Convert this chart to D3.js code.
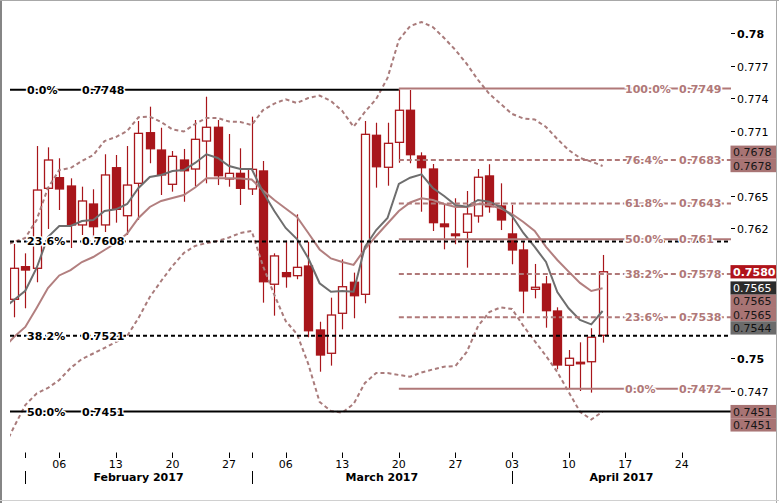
<!DOCTYPE html>
<html><head><meta charset="utf-8">
<script src="https://cdn.jsdelivr.net/npm/d3@7"></script>
<style>body{margin:0;background:#fff}svg{display:block}</style>
</head><body>
<script>
// ---------- DATA ----------
const firstDate = "2017-01-30";   // first trading day in the series (off the left edge)
const lastDate  = "2017-04-13";
// OHLC (null = before first visible candle)
const open  = [null,0.75546,0.75847,0.75832,0.7657,0.76668,0.76591,0.76232,0.76425,0.76232,0.7676,0.76317,0.76616,0.77083,0.76923,0.76607,0.76831,0.76748,0.77006,0.77133,0.76656,0.76708,0.76564,0.7673,0.75685,0.75792,0.75764,0.75853,0.75263,0.75048,0.75417,0.75703,0.75592,0.77059,0.76764,0.76994,0.7729,0.76868,0.76748,0.76241,0.76149,0.76164,0.76315,0.76684,0.76407,0.76149,0.76001,0.75638,0.75687,0.75438,0.74937,0.74965,0.7497,0.75214];
const high  = [null,0.76056,0.7597,0.7696,0.76948,0.76847,0.76662,0.76585,0.76561,0.76884,0.76877,0.7696,0.77191,0.77323,0.77129,0.76914,0.76933,0.772,0.77415,0.772,0.77071,0.76939,0.77231,0.76822,0.7597,0.76087,0.7633,0.76077,0.75339,0.75561,0.75915,0.75792,0.77191,0.77175,0.77175,0.77483,0.77477,0.76902,0.76794,0.76416,0.76478,0.76545,0.76748,0.76792,0.76616,0.76416,0.76077,0.75872,0.75761,0.75472,0.75078,0.75149,0.75279,0.75955];
const low   = [null,0.7538,0.75463,0.75703,0.76195,0.7637,0.76019,0.76139,0.76115,0.76167,0.76253,0.76139,0.76278,0.76801,0.76508,0.76539,0.76446,0.76591,0.76616,0.766,0.76585,0.76416,0.76508,0.75515,0.75395,0.75653,0.75731,0.75196,0.74878,0.74934,0.75269,0.75371,0.75509,0.76576,0.76594,0.76806,0.76801,0.76354,0.76176,0.76007,0.76054,0.75838,0.76253,0.76345,0.76185,0.75869,0.75417,0.75555,0.75284,0.749,0.74716,0.747,0.74685,0.75146];
const close = [null,0.75832,0.75816,0.76554,0.76831,0.76564,0.76232,0.76453,0.76216,0.76693,0.76376,0.766,0.77077,0.76935,0.76693,0.76865,0.76732,0.77022,0.77133,0.76686,0.76708,0.7657,0.76745,0.75708,0.75946,0.75755,0.75841,0.75256,0.75032,0.75401,0.75662,0.75579,0.77068,0.76769,0.76985,0.7729,0.7688,0.7676,0.76253,0.76216,0.76133,0.76333,0.76672,0.764,0.76278,0.76001,0.75623,0.75657,0.75441,0.7494,0.75002,0.74952,0.75196,0.758];
// indicators, one value per trading day from firstDate
const fastAvg = [0.75457,0.7554,0.75625,0.75835,0.76121,0.76222,0.76222,0.76268,0.76278,0.76361,0.76376,0.76425,0.76573,0.76674,0.76693,0.7673,0.76739,0.76804,0.76884,0.7685,0.76776,0.76748,0.76748,0.76536,0.76361,0.76204,0.76102,0.75924,0.75694,0.75616,0.75623,0.75616,0.76029,0.76185,0.76296,0.7661,0.76668,0.76699,0.76573,0.76499,0.76416,0.764,0.76462,0.76446,0.76398,0.76315,0.76158,0.76029,0.7589,0.75613,0.75463,0.75355,0.75315,0.75438];
const slowAvg = [0.75088,0.75198,0.75291,0.75466,0.7565,0.75766,0.75816,0.7589,0.75936,0.76001,0.76065,0.76153,0.76296,0.76398,0.76453,0.76481,0.76508,0.76577,0.76662,0.76662,0.76662,0.7666,0.76651,0.7655,0.76462,0.76384,0.76305,0.76158,0.76006,0.75923,0.7589,0.75863,0.7601,0.7613,0.76245,0.76361,0.76439,0.76478,0.76462,0.76425,0.76398,0.76398,0.76425,0.76416,0.76384,0.76333,0.76259,0.76176,0.76029,0.75909,0.75801,0.75697,0.75623,0.75648];
const bandUpper = [0.76038,0.76075,0.76112,0.76278,0.76573,0.76739,0.76757,0.76822,0.76877,0.77006,0.77043,0.77099,0.77225,0.77231,0.77182,0.77113,0.77094,0.77163,0.77219,0.77219,0.77186,0.77182,0.77154,0.77292,0.77352,0.77391,0.77357,0.77403,0.77426,0.77375,0.77283,0.77138,0.77274,0.77394,0.77588,0.77938,0.78067,0.78104,0.78058,0.77957,0.77846,0.77717,0.77569,0.7744,0.77348,0.77256,0.77214,0.77205,0.77136,0.77025,0.76923,0.7685,0.76817,0.76776];
const bandLower = [0.74156,0.74368,0.74571,0.74677,0.74728,0.74802,0.74912,0.74995,0.75046,0.75097,0.75152,0.75208,0.75374,0.75567,0.75715,0.75853,0.75973,0.76038,0.76065,0.76084,0.76116,0.76158,0.76176,0.75853,0.75586,0.75346,0.75226,0.74949,0.74599,0.74516,0.745,0.7458,0.74774,0.74866,0.74866,0.74848,0.74832,0.74871,0.74899,0.74924,0.74931,0.7506,0.753,0.75429,0.75472,0.75457,0.753,0.75161,0.75023,0.74875,0.74691,0.74509,0.74437,0.74509];
// price axis
const priceTicks = [0.744,0.747,0.75,0.753,0.756,0.759,0.762,0.765,0.768,0.771,0.774,0.777,0.78];
// fibonacci retracements
const leftFibPct = ["0.0%","23.6%","38.2%","50.0%"];
const leftFibVal = [0.7748,0.7608,0.7521,0.7451];
const leftFibSolid = [true,false,false,true];
const rightFibPct = ["100.0%","76.4%","61.8%","50.0%","38.2%","23.6%","0.0%"];
const rightFibVal = [0.7749,0.7683,0.7643,0.761,0.7578,0.7538,0.7472];
const rightFibSolid = [true,false,false,true,false,false,true];
const fibAnchorDate = "2017-03-20";
// time axis
const dayTicks = ["2017-02-06","2017-02-13","2017-02-20","2017-02-27","2017-03-06","2017-03-13","2017-03-20","2017-03-27","2017-04-03","2017-04-10","2017-04-17","2017-04-24"];
const monthStarts = ["2017-02-01","2017-03-01","2017-04-03"];
const monthNames = ["February 2017","March 2017","April 2017"];
// right-axis value tags
const tagValues = [0.7678,0.7678,0.7580,0.7565,0.7565,0.7565,0.7544,0.7451,0.7451];
const tagKinds  = ["band","band","last","dark","band","band","grey","band","band"];

// ---------- CHART ----------
const W = 779, H = 503;
const plot = {left:10, right:731, top:1, bottom:448};
const parse = d3.timeParse("%Y-%m-%d");
const d0 = parse(firstDate);
const isWeekday = d => d.getDay() !== 0 && d.getDay() !== 6;
const tIndex = d => d3.timeDay.range(d0, d).filter(isWeekday).length;
const dates = d3.timeDay.range(d0, d3.timeDay.offset(parse(lastDate),1)).filter(isWeekday);

const x = d3.scaleLinear().domain([2, 53]).range([25.3, 602.6]);
const y = d3.scaleLinear().domain([0.78, 0.747]).range([33.3, 391.0]);

const svg = d3.select("body").append("svg").attr("width", W).attr("height", H)
  .style("font-family","'DejaVu Sans', Verdana, sans-serif");

svg.append("defs").append("clipPath").attr("id","plotclip").append("rect")
  .attr("x",plot.left).attr("y",plot.top).attr("width",plot.right-plot.left).attr("height",plot.bottom-plot.top);

const g = svg.append("g").attr("clip-path","url(#plotclip)");

// candles
const RED = "#a8161b";
const candles = dates.map((d,i)=>({i, o:open[i], h:high[i], l:low[i], c:close[i]})).filter(d=>d.o!==null);
const cg = g.append("g");
cg.selectAll("line.wick").data(candles).join("line")
  .attr("x1",d=>Math.round(x(d.i))+0.5).attr("x2",d=>Math.round(x(d.i))+0.5)
  .attr("y1",d=>y(d.h)).attr("y2",d=>y(d.l))
  .attr("stroke",RED).attr("stroke-width",1.2);
cg.selectAll("rect.body").data(candles).join("rect")
  .attr("x",d=>Math.round(x(d.i))-3.5)
  .attr("width",8)
  .attr("y",d=>y(Math.max(d.o,d.c)))
  .attr("height",d=>Math.max(1.5, Math.abs(y(d.o)-y(d.c))))
  .attr("fill",d=>d.c>=d.o ? "#fff" : RED)
  .attr("stroke",RED).attr("stroke-width",1.3);

// indicator lines
const lineGen = arr => d3.line().x((v,i)=>x(i)).y(v=>y(v)).curve(d3.curveLinear)(arr);
const BAND = "#a97b7b";
g.append("path").attr("d",lineGen(bandUpper)).attr("fill","none").attr("stroke",BAND).attr("stroke-width",2).attr("stroke-dasharray","4,3");
g.append("path").attr("d",lineGen(bandLower)).attr("fill","none").attr("stroke",BAND).attr("stroke-width",2).attr("stroke-dasharray","4,3");
g.append("path").attr("d",lineGen(slowAvg)).attr("fill","none").attr("stroke","#b27f7f").attr("stroke-width",2);
g.append("path").attr("d",lineGen(fastAvg)).attr("fill","none").attr("stroke","#6e6e6e").attr("stroke-width",2);

// fibonacci lines
const FIBROSE = "#b07878";
const xAnchor = x(tIndex(parse(fibAnchorDate)));
leftFibVal.forEach((v,k)=>{
  g.append("line").attr("x1",plot.left).attr("x2", k===0 ? xAnchor : plot.right)
    .attr("y1",y(v)).attr("y2",y(v)).attr("stroke","#000").attr("stroke-width",2)
    .attr("stroke-dasharray", leftFibSolid[k] ? null : "4,3");
});
rightFibVal.forEach((v,k)=>{
  g.append("line").attr("x1",xAnchor).attr("x2",plot.right)
    .attr("y1",y(v)).attr("y2",y(v)).attr("stroke",FIBROSE).attr("stroke-width",2)
    .attr("stroke-dasharray", rightFibSolid[k] ? null : "5,3");
});
const fibText = (sel, xx, yy, txt, col) => sel.append("text").attr("x",xx).attr("y",yy+4)
  .attr("font-size",11).attr("font-weight","bold").attr("fill",col)
  .attr("stroke","#fff").attr("stroke-width",3).attr("paint-order","stroke").text(txt);
leftFibVal.forEach((v,k)=>{
  fibText(g, 27, y(v), leftFibPct[k], "#000");
  fibText(g, 82, y(v), d3.format(".4f")(v), "#000");
});
rightFibVal.forEach((v,k)=>{
  fibText(g, 625, y(v), rightFibPct[k], FIBROSE);
  fibText(g, 679, y(v), String(+v.toFixed(4)), FIBROSE);
});

// value tags: tags above the last price stack upward, tags below stack downward
const TAGH = 13.3;
const tagStyle = {
  band:{bg:"#a87474", fg:"#161616", w:"normal"},
  last:{bg:"#b0131a", fg:"#ffffff", w:"bold"},
  dark:{bg:"#2b2b2b", fg:"#ffffff", w:"normal"},
  grey:{bg:"#6b6b6b", fg:"#111111", w:"normal"}
};
const lastPrice = close[close.length-1];
const tags = tagValues.map((v,k)=>({v, k, top: y(v)-TAGH/2, st: tagStyle[tagKinds[k]]}));
const above = tags.filter(t=>t.v > lastPrice).sort((a,b)=>a.v-b.v || a.k-b.k);
const below = tags.filter(t=>t.v <= lastPrice).sort((a,b)=>b.v-a.v || a.k-b.k);
let limitBottom = y(lastPrice) - TAGH/2;
above.forEach(t=>{ if (t.top + TAGH > limitBottom) t.top = limitBottom - TAGH; limitBottom = t.top; });
let limitTop = -Infinity;
below.forEach(t=>{ if (t.top < limitTop) t.top = limitTop; limitTop = t.top + TAGH; });

// right price axis (labels hidden where a value tag covers them)
const ax = svg.append("g");
priceTicks.forEach(v=>{
  const yy = Math.round(y(v))+0.5;
  const covered = tags.some(t => yy+5 > t.top && yy-5 < t.top+TAGH);
  if (covered) return;
  ax.append("line").attr("x1",plot.right).attr("x2",plot.right+4).attr("y1",yy).attr("y2",yy).attr("stroke","#000");
  const round2 = Math.abs(v*100 - Math.round(v*100)) < 1e-6;
  ax.append("text").attr("x",plot.right+6).attr("y",yy+4).attr("font-size",11)
    .attr("font-weight", round2 ? "bold":"normal").attr("fill","#000").text(String(+v.toFixed(3)));
});
tags.forEach(t=>{
  ax.append("rect").attr("x",plot.right-0.5).attr("y",t.top).attr("width",W-3-(plot.right-0.5)).attr("height",TAGH).attr("fill",t.st.bg);
  ax.append("text").attr("x",plot.right+2).attr("y",t.top+TAGH/2+4).attr("font-size",11)
    .attr("font-weight",t.st.w).attr("fill",t.st.fg).text(d3.format(".4f")(t.v));
});

// time axis
const tx = svg.append("g");
const tickTop = 452.5, tickBot = 458;
monthStarts.concat(dayTicks).forEach(s=>{
  const xx = Math.round(x(tIndex(parse(s))))+0.5;
  if (xx > plot.right) return;
  tx.append("line").attr("x1",xx).attr("x2",xx).attr("y1",tickTop).attr("y2",tickBot).attr("stroke","#000");
});
dayTicks.forEach(s=>{
  const xx = x(tIndex(parse(s)));
  tx.append("text").attr("x",xx).attr("y",468).attr("text-anchor","middle").attr("font-size",11).attr("fill","#000")
    .text(d3.timeFormat("%d")(parse(s)));
});
monthStarts.forEach((s,k)=>{
  const xx = Math.round(x(tIndex(parse(s))))+0.5;
  tx.append("line").attr("x1",xx).attr("x2",xx).attr("y1",471).attr("y2",484).attr("stroke","#000");
  const xNext = k+1 < monthStarts.length ? x(tIndex(parse(monthStarts[k+1]))) : plot.right;
  tx.append("text").attr("x",(x(tIndex(parse(s)))+xNext)/2).attr("y",481).attr("text-anchor","middle")
    .attr("font-size",11).attr("font-weight","bold").attr("fill","#000").text(monthNames[k]);
});

// frame
svg.append("line").attr("x1",1).attr("x2",1).attr("y1",0).attr("y2",H).attr("stroke","#858585").attr("stroke-width",2);
svg.append("line").attr("x1",0).attr("x2",W).attr("y1",0.5).attr("y2",0.5).attr("stroke","#a8a8a8");
svg.append("line").attr("x1",776.5).attr("x2",776.5).attr("y1",0).attr("y2",H).attr("stroke","#a8a8a8");
svg.append("line").attr("x1",0).attr("x2",W).attr("y1",500.5).attr("y2",500.5).attr("stroke","#d0d0d0");
</script>
</body></html>
